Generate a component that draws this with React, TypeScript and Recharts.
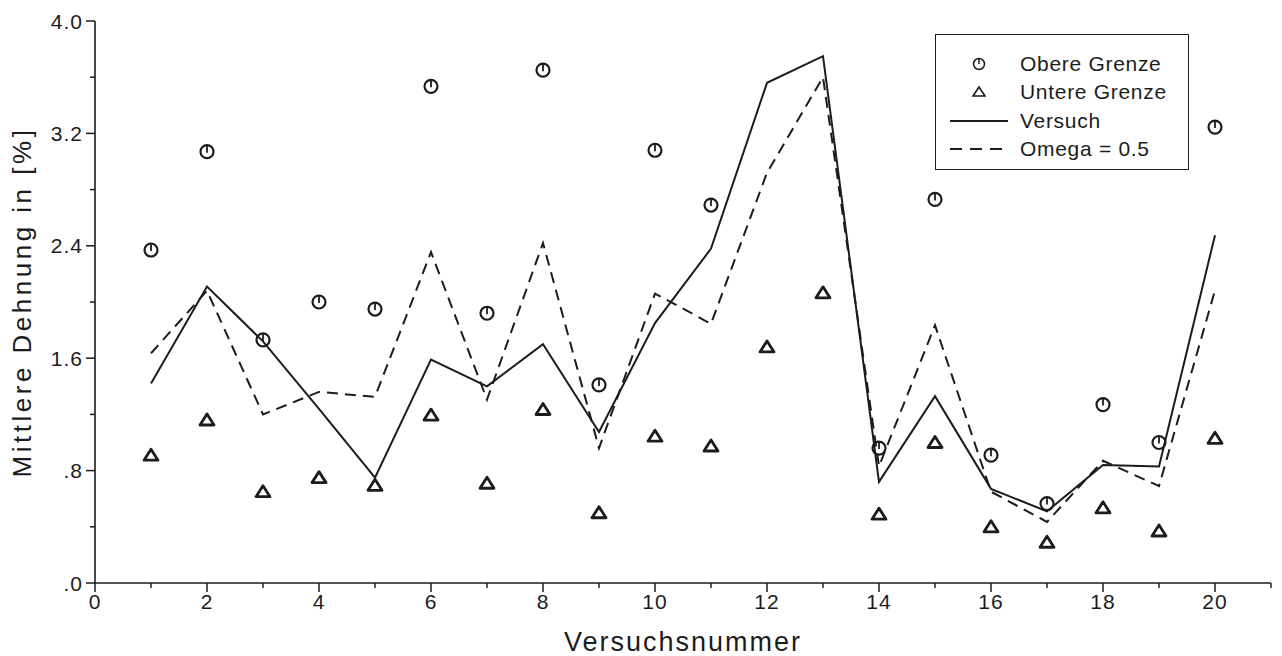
import {
  ComposedChart,
  Legend,
  Line,
  Scatter,
  XAxis,
  YAxis,
} from "recharts";

const trials = [1, 2, 3, 4, 5, 6, 7, 8, 9, 10, 11, 12, 13, 14, 15, 16, 17, 18, 19, 20];
const obereGrenze = [2.37, 3.07, 1.73, 2.0, 1.95, 3.535, 1.92, 3.65, 1.41, 3.08, 2.69, null, null, 0.96, 2.73, 0.91, 0.565, 1.27, 1.0, 3.245];
const untereGrenze = [0.91, 1.16, 0.65, 0.75, 0.695, 1.195, 0.71, 1.235, 0.5, 1.045, 0.975, 1.68, 2.065, 0.49, 1.0, 0.4, 0.29, 0.535, 0.37, 1.03];
const versuch = [1.42, 2.11, 1.72, 1.24, 0.75, 1.59, 1.4, 1.7, 1.075, 1.85, 2.38, 3.56, 3.75, 0.72, 1.33, 0.67, 0.51, 0.84, 0.83, 2.475];
const omega = [1.635, 2.08, 1.2, 1.36, 1.325, 2.355, 1.305, 2.42, 0.96, 2.06, 1.845, 2.92, 3.6, 0.83, 1.835, 0.65, 0.435, 0.87, 0.69, 2.083];

const xTicks = [0, 1, 2, 3, 4, 5, 6, 7, 8, 9, 10, 11, 12, 13, 14, 15, 16, 17, 18, 19, 20, 21];
const yTicks = [0, 0.4, 0.8, 1.2, 1.6, 2.0, 2.4, 2.8, 3.2, 3.6, 4.0];
const legendLabels = ["Obere Grenze", "Untere Grenze", "Versuch", "Omega = 0.5"];

const INK = "#1c1c1c";
const FONT = "'Liberation Sans', Arial, sans-serif";
const DASH = "11 7";

const rows = trials.map((n, i) => ({
  n,
  obere: obereGrenze[i],
  untere: untereGrenze[i],
  versuch: versuch[i],
  omega: omega[i],
}));
const obereRows = rows.filter((r) => r.obere != null);

const isMajorY = (v: number) => Math.abs(v / 0.8 - Math.round(v / 0.8)) < 1e-6;
const fmtY = (v: number) => v.toFixed(1).replace(/^0/, "");
const isMajorX = (v: number) => v % 2 === 0 && v <= 20;

function YTick(props: any) {
  const { x, y, payload, side } = props;
  const major = isMajorY(payload.value);
  const len = major ? 9 : 5;
  const dir = side === "right" ? 1 : -1;
  return (
    <g>
      <line x1={x} x2={x + dir * len} y1={y} y2={y} stroke={INK} strokeWidth={1.5} />
      {major && side !== "right" && (
        <text
          x={x - len - 3}
          y={y}
          textAnchor="end"
          dominantBaseline="central"
          fill={INK}
          fontSize={21}
          letterSpacing={1}
          fontFamily={FONT}
        >
          {fmtY(payload.value)}
        </text>
      )}
    </g>
  );
}

function XTick(props: any) {
  const { x, y, payload, side } = props;
  const major = isMajorX(payload.value);
  const len = major ? 9 : 5;
  const dir = side === "top" ? -1 : 1;
  return (
    <g>
      <line x1={x} x2={x} y1={y} y2={y + dir * len} stroke={INK} strokeWidth={1.5} />
      {major && side !== "top" && (
        <text
          x={x}
          y={y + 26}
          textAnchor="middle"
          fill={INK}
          fontSize={21}
          letterSpacing={1}
          fontFamily={FONT}
        >
          {payload.value}
        </text>
      )}
    </g>
  );
}

function CircleMark(props: any) {
  const { cx, cy } = props;
  if (cx == null || cy == null) return <g />;
  return (
    <g>
      <circle cx={cx} cy={cy} r={6.5} fill="none" stroke={INK} strokeWidth={2.2} />
      <line x1={cx} x2={cx} y1={cy - 6.5} y2={cy + 1} stroke={INK} strokeWidth={1.8} />
    </g>
  );
}

function TriangleMark(props: any) {
  const { cx, cy } = props;
  if (cx == null || cy == null) return <g />;
  return (
    <polygon
      points={`${cx},${cy - 6} ${cx - 7},${cy + 5} ${cx + 7},${cy + 5}`}
      fill="none"
      stroke={INK}
      strokeWidth={2.8}
      strokeLinejoin="round"
    />
  );
}

function LegendSymbol({ index }: { index: number }) {
  return (
    <svg width={58} height={28} style={{ display: "block" }}>
      {index === 0 && (
        <g>
          <circle cx={29} cy={14} r={5.5} fill="none" stroke={INK} strokeWidth={1.5} />
          <line x1={29} x2={29} y1={8.5} y2={14} stroke={INK} strokeWidth={1.5} />
        </g>
      )}
      {index === 1 && (
        <polygon points="29,9 23,18 35,18" fill="none" stroke={INK} strokeWidth={1.6} />
      )}
      {index === 2 && <line x1={0} x2={58} y1={14} y2={14} stroke={INK} strokeWidth={2} />}
      {index === 3 && (
        <line x1={0} x2={58} y1={14} y2={14} stroke={INK} strokeWidth={2} strokeDasharray="12 8" />
      )}
    </svg>
  );
}

function LegendBox() {
  return (
    <div
      style={{
        border: `1.5px solid ${INK}`,
        background: "#fff",
        padding: "15px 10px 6px 14px",
        width: 254,
        boxSizing: "border-box",
        fontFamily: FONT,
        fontSize: 21,
        letterSpacing: 0.7,
        color: INK,
      }}
    >
      {legendLabels.map((label, i) => (
        <div key={label} style={{ display: "flex", alignItems: "center", height: 28.3 }}>
          <LegendSymbol index={i} />
          <span style={{ marginLeft: 12, lineHeight: "28px", whiteSpace: "nowrap" }}>{label}</span>
        </div>
      ))}
    </div>
  );
}

export default function App() {
  return (
    <div style={{ width: 1274, height: 648, background: "#fff" }}>
      <ComposedChart
        width={1274}
        height={648}
        data={rows}
        margin={{ top: 13, right: 11, left: 0, bottom: 43 }}
        style={{ fontFamily: FONT }}
      >
        <XAxis
          dataKey="n"
          type="number"
          domain={[0, 21]}
          ticks={xTicks}
          interval={0}
          height={30}
          tickSize={0}
          tickMargin={0}
          tickLine={false}
          axisLine={{ stroke: INK, strokeWidth: 1.6 }}
          tick={(p: any) => <XTick {...p} side="bottom" />}
          label={{
            content: () => (
              <text
                x={675}
                y={643}
                textAnchor="middle"
                fill={INK}
                fontSize={27}
                letterSpacing={2}
                fontFamily={FONT}
              >
                Versuchsnummer
              </text>
            ),
          }}
        />
        <XAxis
          xAxisId="top"
          dataKey="n"
          type="number"
          orientation="top"
          domain={[0, 21]}
          ticks={xTicks}
          interval={0}
          height={0}
          tickSize={0}
          tickMargin={0}
          tickLine={false}
          axisLine={{ stroke: INK, strokeWidth: 1.6 }}
          tick={(p: any) => <XTick {...p} side="top" />}
        />
        <YAxis
          type="number"
          domain={[0, 4]}
          ticks={yTicks}
          interval={0}
          width={87}
          tickSize={0}
          tickMargin={0}
          tickLine={false}
          axisLine={{ stroke: INK, strokeWidth: 1.6 }}
          tick={(p: any) => <YTick {...p} side="left" />}
          label={{
            content: () => (
              <text
                x={14}
                y={294}
                transform="rotate(-90, 14, 294)"
                textAnchor="middle"
                dominantBaseline="central"
                fill={INK}
                fontSize={26}
                letterSpacing={3.5}
                fontFamily={FONT}
              >
                Mittlere Dehnung in [%]
              </text>
            ),
          }}
        />
        <YAxis
          yAxisId="right"
          type="number"
          orientation="right"
          domain={[0, 4]}
          ticks={yTicks}
          interval={0}
          width={0}
          tickSize={0}
          tickMargin={0}
          tickLine={false}
          axisLine={{ stroke: INK, strokeWidth: 1.6 }}
          tick={(p: any) => <YTick {...p} side="right" />}
        />
        <Legend
          layout="vertical"
          align="center"
          verticalAlign="middle"
          content={() => <LegendBox />}
          wrapperStyle={{ left: 927, top: 26, width: 254 }}
        />
        <Line
          dataKey="versuch"
          type="linear"
          stroke={INK}
          strokeWidth={2}
          dot={false}
          activeDot={false}
          isAnimationActive={false}
        />
        <Line
          dataKey="omega"
          type="linear"
          stroke={INK}
          strokeWidth={2}
          strokeDasharray={DASH}
          dot={false}
          activeDot={false}
          isAnimationActive={false}
        />
        <Scatter
          data={obereRows}
          dataKey="obere"
          shape={(p: any) => <CircleMark {...p} />}
          isAnimationActive={false}
        />
        <Scatter
          data={rows}
          dataKey="untere"
          shape={(p: any) => <TriangleMark {...p} />}
          isAnimationActive={false}
        />
      </ComposedChart>
    </div>
  );
}
